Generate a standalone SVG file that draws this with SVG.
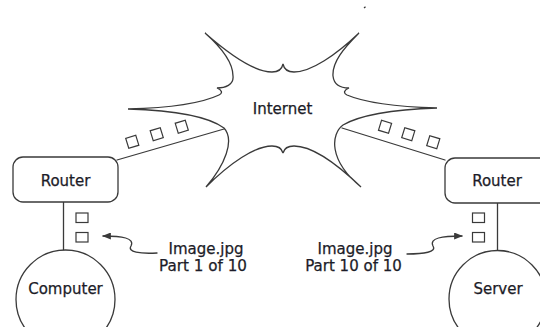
<svg xmlns="http://www.w3.org/2000/svg" width="540" height="327" viewBox="0 0 540 327">
<defs>
<style>
.ln{fill:none;stroke:#3a3a3a;stroke-width:1.3;stroke-linecap:round;stroke-linejoin:round}
.sh{fill:#fff;stroke:#3a3a3a;stroke-width:1.3}
.pk{fill:#fff;stroke:#3a3a3a;stroke-width:1.2}
.tx{font-family:"DejaVu Sans","Liberation Sans",sans-serif;font-size:15px;fill:#1c1c28;stroke:#1c1c28;stroke-width:0.25;text-anchor:middle}
</style>
<marker id="ah" viewBox="0 0 10 8" refX="9" refY="4" markerWidth="9" markerHeight="7" markerUnits="userSpaceOnUse" orient="auto">
<path d="M0,0 L10,4 L0,8 Z" fill="#3a3a3a"/>
</marker>
</defs>
<rect width="540" height="327" fill="#fff"/>
<path d="M364,8 l1.5,-1.2" stroke="#333" stroke-width="1.3"/>
<g id="connectors">
<path class="ln" d="M117,160 L224,129"/>
<path class="ln" d="M445,160 L342,128"/>
<path class="ln" d="M63.5,202 L63.5,250"/>
<path class="ln" d="M497.5,203 L497.5,250"/>
<path class="ln" d="M157,253 C140,254 127,252 131,246 C135,238 122,236 103,236" marker-end="url(#ah)"/>
<path class="ln" d="M407,254 C424,254 437,252 433,246 C429,238 442,236 462,236" marker-end="url(#ah)"/>
<g id="packets">
<rect class="pk" x="127" y="136.5" width="10.5" height="10.5" transform="rotate(-17 132.3 141.7)"/>
<rect class="pk" x="151.5" y="129" width="10.5" height="10.5" transform="rotate(-17 156.7 134.3)"/>
<rect class="pk" x="176.5" y="121.5" width="10.5" height="10.5" transform="rotate(-17 181.7 126.7)"/>
<rect class="pk" x="379.8" y="121.5" width="10.5" height="10.5" transform="rotate(17 385 126.7)"/>
<rect class="pk" x="403" y="129" width="10.5" height="10.5" transform="rotate(17 408.3 134.3)"/>
<rect class="pk" x="428" y="137" width="10.5" height="10.5" transform="rotate(17 433.3 142.3)"/>
<rect class="pk" x="76" y="213" width="12" height="9.5"/>
<rect class="pk" x="76" y="232.5" width="12" height="9.5"/>
<rect class="pk" x="472.5" y="213" width="12" height="9.5"/>
<rect class="pk" x="472.5" y="232.5" width="12" height="9.5"/>
</g>
</g>
<g id="internet">
<path class="sh" d="M205,33 C230,55 255,72 272,72 C279,72 282,69 283,64 C284,69 287,72 294,72 C311,72 336,55 359,33 C344,48 332,62 333,76 C334,85 341,88 349,88 C344,90 343,93 347,95 C368,104 404,107 437,108 C410,109 365,112 343,125 C331,134 328,160 361,187 C336,163 311,146 294,146 C287,146 284,149 283,153 C282,149 279,146 272,146 C255,146 230,163 206,187 C225,165 235,140 224,128 C205,114 160,110 128,109 C165,108 200,104 219,95 C223,93 222,90 217,88 C225,88 234,85 233,76 C233,62 222,48 205,33 Z"/>
<text class="tx" x="282.5" y="114">Internet</text>
</g>
<g id="router-left">
<rect class="sh" x="13" y="157" width="105" height="45" rx="10"/>
<text class="tx" x="65.5" y="186">Router</text>
</g>
<g id="router-right">
<rect class="sh" x="445" y="158" width="105" height="45" rx="10"/>
<text class="tx" x="497" y="186">Router</text>
</g>
<g id="computer">
<circle class="sh" cx="65.5" cy="299.5" r="49.5"/>
<text class="tx" x="65.5" y="294">Computer</text>
</g>
<g id="server">
<circle class="sh" cx="497.5" cy="299" r="48.5"/>
<text class="tx" x="498" y="294">Server</text>
</g>
<g id="label-left">
<text class="tx" x="206" y="254">Image.jpg</text>
<text class="tx" x="203" y="271" textLength="88" lengthAdjust="spacingAndGlyphs">Part 1 of 10</text>
</g>
<g id="label-right">
<text class="tx" x="355" y="254">Image.jpg</text>
<text class="tx" x="353.5" y="271">Part 10 of 10</text>
</g>
</svg>
